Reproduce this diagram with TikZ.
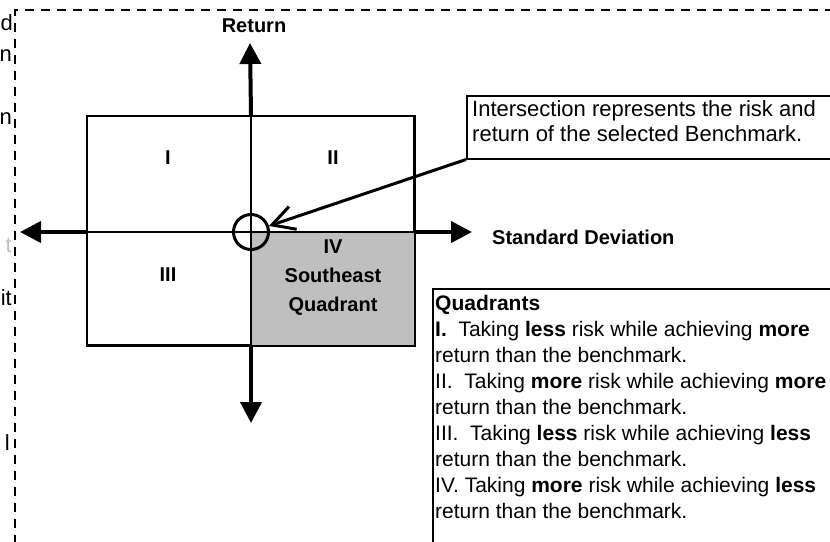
\documentclass[tikz,border=0pt]{standalone}
\usepackage{fontspec}
\setmainfont{Liberation Sans}
\usepackage{tikz}
\usetikzlibrary{positioning}
\usetikzlibrary{arrows.meta,calc}
\tikzstyle{axis} = [line width=4pt, -{Triangle[length=21pt,width=21pt]}]
\tikzstyle{thinline} = [line width=1.5pt]
\tikzstyle{lab} = [font=\bfseries\fontsize{20}{29}\selectfont, inner sep=0pt]
\tikzstyle{txt} = [font=\fontsize{21}{26}\selectfont, inner sep=0pt, align=left]
\tikzstyle{notetxt} = [font=\fontsize{22}{25}\selectfont, inner sep=0pt, align=left]
\tikzstyle{frame} = [draw, line width=1.5pt, inner sep=0pt]
\tikzstyle{pointer} = [line width=3pt, -{Straight Barb[length=22pt,width=24pt]}]
\tikzstyle{border} = [line width=2.5pt, dash pattern=on 9pt off 7pt]
\begin{document}
\begin{tikzpicture}[x=1pt, y=-1pt]
	\useasboundingbox (0,0) rectangle (830,541);
	\clip (0,0) rectangle (830,541);
	% cut-off text on the left and the dashed frame
	\node (fragd) [notetxt, anchor=east] at (13,23) {d};
	\node (fragn) [notetxt, anchor=east] at (12,56) {n};
	\node (fragm) [notetxt, anchor=east] at (12,119) {n};
	\node (fragt) [notetxt, anchor=east, text=black!25] at (12,245) {t};
	\node (fragit) [notetxt, anchor=east] at (12,298) {it};
	\node (fragl) [notetxt, anchor=east] at (10,443) {l};
	\draw [border] (15,560) -- (15,10) -- (850,10);
	% quadrant box
	\coordinate (O) at (251,232);
	\node (quad) [frame, minimum width=327pt, minimum height=229pt] at (250.5,230.5) {};
	\fill [black!25] (O) rectangle (quad.south east);
	\draw [thinline] (quad.south west) rectangle (quad.north east);
	\draw [thinline] (quad.west |- O) -- (quad.east |- O);
	\draw [thinline] (O |- quad.north) -- (O |- quad.south);
	% axes
	\coordinate (top) at (250,43);
	\coordinate (bottom) at (251,423);
	\coordinate (left) at (20,232);
	\coordinate (right) at (472,232);
	\draw [axis] (O |- quad.north) -- (top);
	\draw [axis] (O |- quad.south) -- (bottom);
	\draw [axis] (quad.west |- O) -- (left);
	\draw [axis] (quad.east |- O) -- (right);
	\node (retlab) [lab] at (254,26) {Return};
	\node (sdlab) [lab, anchor=west] at (492,237) {Standard Deviation};
	% quadrant labels
	\node (q1) [lab] at (168,158) {I};
	\node (q2) [lab] at (333,158) {II};
	\node (q3) [lab] at (168,275) {III};
	\node (q4) [lab, align=center] at (333,278) {IV\\Southeast\\Quadrant};
	% intersection
	\node (ring) [circle, draw, line width=3pt, minimum size=35pt, inner sep=0pt] at (O) {};
	\node (note) [frame, anchor=north west, minimum width=380pt, minimum height=63pt] at (466,95) {};
	\node (notetext) [notetxt, anchor=north west] at (472,100) {Intersection represents the risk and\\return of the selected Benchmark.};
	\draw [pointer] (note.south west) -- (ring);
	% legend
	\node (legend) [frame, anchor=north west, minimum width=420pt, minimum height=280pt] at (432,288) {};
	\node (legendtext) [txt, anchor=north west] at (435,295) {\textbf{Quadrants}\\
		\textbf{I.}\ \ Taking \textbf{less} risk while achieving \textbf{more}\\
		return than the benchmark.\\
		II.\ \ Taking \textbf{more} risk while achieving \textbf{more}\\
		return than the benchmark.\\
		III.\ \ Taking \textbf{less} risk while achieving \textbf{less}\\
		return than the benchmark.\\
		IV. Taking \textbf{more} risk while achieving \textbf{less}\\
		return than the benchmark.};
\end{tikzpicture}
\end{document}
